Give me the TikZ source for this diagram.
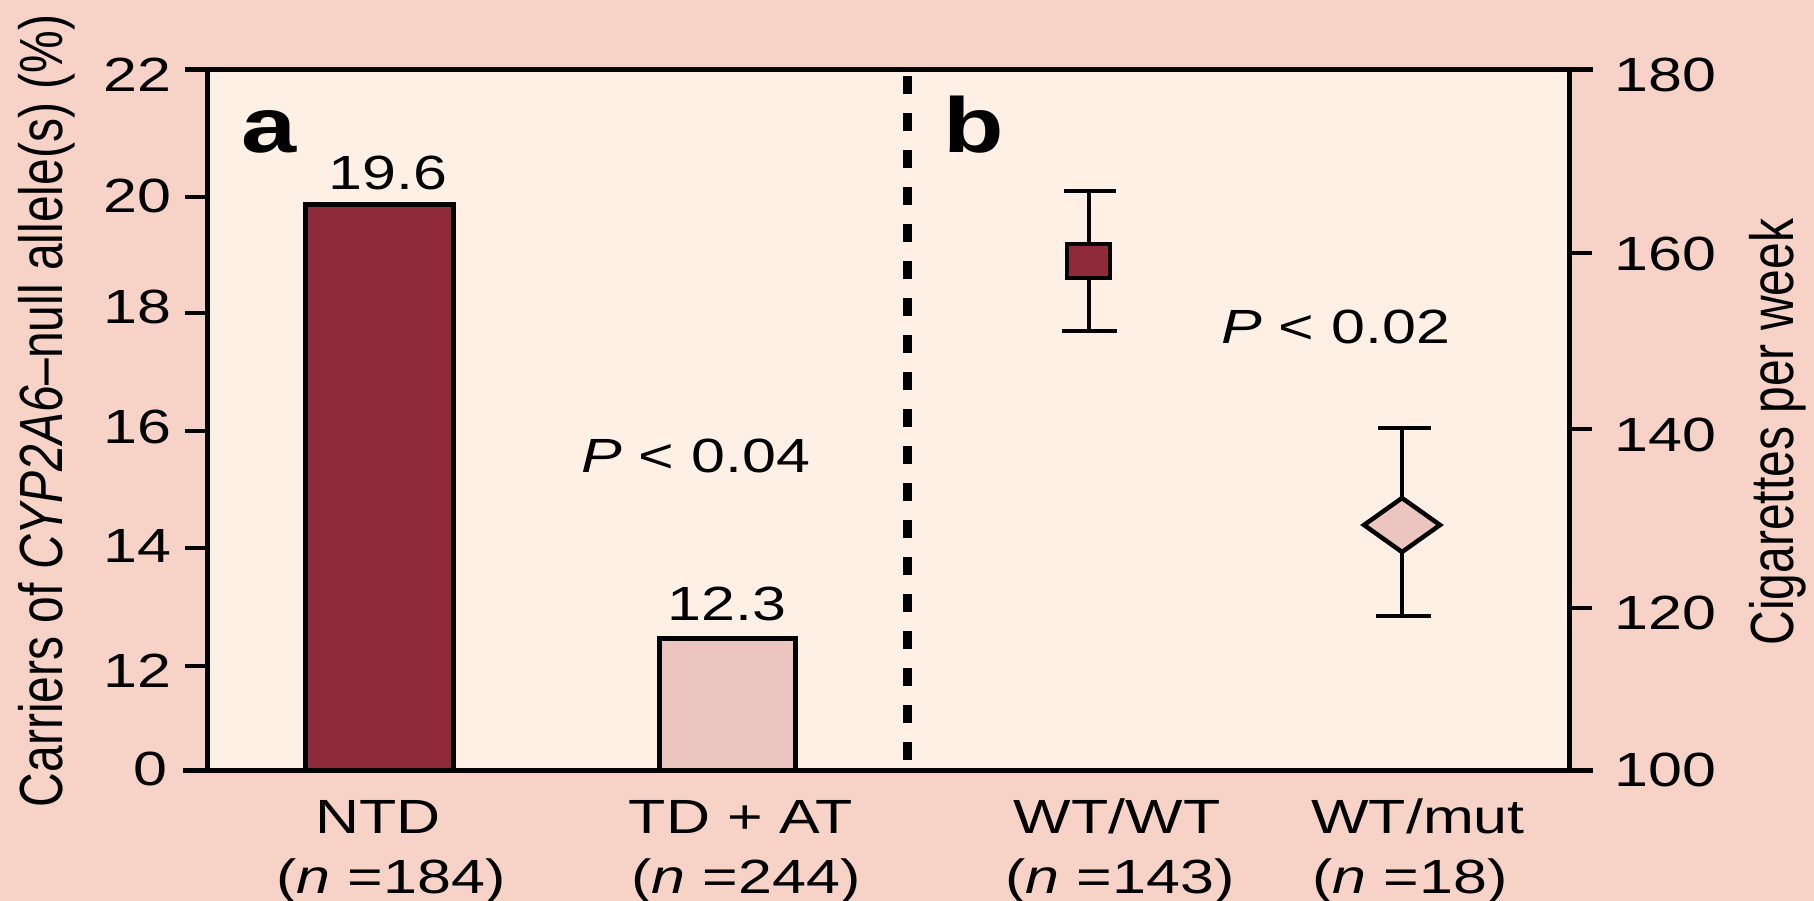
\documentclass[tikz,border=0pt]{standalone}
\usepackage{fontspec}
\usepackage{graphicx}
\setmainfont{Liberation Sans}[FakeStretch=1.27]
\newfontfamily\rotfont{Liberation Sans}
\definecolor{outerbg}{RGB}{247,210,198}
\definecolor{innerbg}{RGB}{255,240,230}
\definecolor{darkbar}{RGB}{142,42,58}
\definecolor{lightbar}{RGB}{236,196,192}
\tikzset{
  axisline/.style={line width=5pt, line cap=rect},
  ticktext/.style={font=\fontsize{48}{58}\selectfont, inner sep=0pt},
  paneltext/.style={font=\fontsize{78}{90}\selectfont\bfseries, inner sep=0pt},
  barbox/.style={draw=black, line width=5pt},
  errbar/.style={line width=4.5pt},
}
\begin{document}
\begin{tikzpicture}[x=1pt,y=-1pt]
\useasboundingbox (0,0) rectangle (1814,901);
\fill[outerbg] (0,0) rectangle (1814,901);
\fill[innerbg] (207,70) rectangle (1569,770);

% bars
\draw[barbox, fill=darkbar] (305,770) rectangle (453,205);
\draw[barbox, fill=lightbar] (659,770) rectangle (795,638);

% dashed separator
\coordinate (dtop) at (907,76);
\coordinate (dbot) at (907,760);
\draw[line width=9pt, dash pattern=on 18pt off 19pt] (dtop) -- (dbot);

% frame
\coordinate (tl) at (187,70);
\coordinate (tr) at (1590,70);
\coordinate (bl) at (185,770);
\coordinate (br) at (1590,770);
\draw[axisline] (tl) -- (tr);
\draw[axisline] (bl) -- (br);
\draw[axisline] (207,70) -- (207,770);
\draw[axisline] (1569,70) -- (1569,770);

% left ticks
\foreach \yy in {197,313,431,548,666} \draw[line width=4.5pt] (185,\yy) -- (207,\yy);
% right ticks
\foreach \yy in {253,429,608} \draw[line width=4.5pt] (1569,\yy) -- (1592,\yy);

% left tick labels
\node[ticktext, anchor=base east] (l22) at (172,92) {22};
\node[ticktext, anchor=base east] (l20) at (172,213) {20};
\node[ticktext, anchor=base east] (l18) at (172,323) {18};
\node[ticktext, anchor=base east] (l16) at (172,443) {16};
\node[ticktext, anchor=base east] (l14) at (172,562) {14};
\node[ticktext, anchor=base east] (l12) at (172,687) {12};
\node[ticktext, anchor=base east] (l0) at (168,785) {0};

% right tick labels
\node[ticktext, anchor=base west] (r180) at (1614,92) {180};
\node[ticktext, anchor=base west] (r160) at (1614,270) {160};
\node[ticktext, anchor=base west] (r140) at (1614,451) {140};
\node[ticktext, anchor=base west] (r120) at (1614,629) {120};
\node[ticktext, anchor=base west] (r100) at (1614,786) {100};

% axis titles
\node[inner sep=0pt, rotate=90, anchor=base] (ytitle) at (62,411)
  {\scalebox{1}[1.27]{\rotfont\fontsize{48}{58}\selectfont Carriers of \textit{CYP2A6}–null allele(s) (\%)}};
\node[inner sep=0pt, rotate=90, anchor=base] (y2title) at (1793,432)
  {\scalebox{1}[1.27]{\rotfont\fontsize{48}{58}\selectfont Cigarettes per week}};

% panel letters
\node[paneltext, anchor=base west] (pa) at (241,153) {a};
\node[paneltext, anchor=base west] (pb) at (943,153) {b};

% value labels
\node[ticktext, anchor=base] (v196) at (388,190) {19.6};
\node[ticktext, anchor=base] (v123) at (727,620) {12.3};
\node[ticktext, anchor=base west] (p04) at (581,472) {\textit{P} < 0.04};
\node[ticktext, anchor=base west] (p02) at (1221,343) {\textit{P} < 0.02};

% error bars panel b
\coordinate (e1t) at (1089,191);
\coordinate (e1b) at (1089,331);
\draw[errbar] (e1t) -- (e1b);
\draw[errbar] (1064,191) -- (1116,191);
\draw[errbar] (1062,331) -- (1117,331);
\draw[line width=4.5pt, fill=darkbar] (1067,244) rectangle (1110,278);

\coordinate (e2t) at (1402,428);
\coordinate (e2b) at (1402,616);
\draw[errbar] (e2t) -- (e2b);
\draw[errbar] (1378,428) -- (1431,428);
\draw[errbar] (1376,616) -- (1431,616);
\draw[line width=4.5pt, fill=lightbar, line join=miter] (1364,525) -- (1402,498) -- (1440,525) -- (1402,552) -- cycle;

% category labels
\node[ticktext, anchor=base] (c1a) at (378,833) {NTD};
\node[ticktext, anchor=base] (c1b) at (391,893) {(\textit{n} =184)};
\node[ticktext, anchor=base] (c2a) at (741,833) {TD + AT};
\node[ticktext, anchor=base] (c2b) at (746,893) {(\textit{n} =244)};
\node[ticktext, anchor=base] (c3a) at (1117,833) {WT/WT};
\node[ticktext, anchor=base] (c3b) at (1120,893) {(\textit{n} =143)};
\node[ticktext, anchor=base] (c4a) at (1418,833) {WT/mut};
\node[ticktext, anchor=base] (c4b) at (1410,893) {(\textit{n} =18)};
\end{tikzpicture}
\end{document}
